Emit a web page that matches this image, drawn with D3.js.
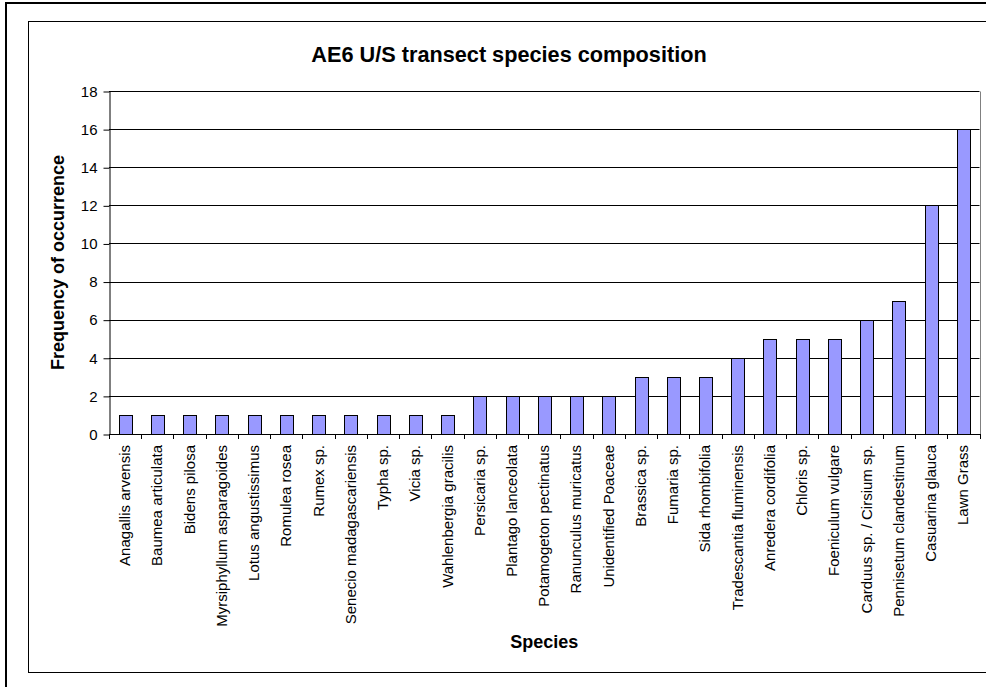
<!DOCTYPE html>
<html>
<head>
<meta charset="utf-8">
<script src="https://cdn.jsdelivr.net/npm/d3@7"></script>
<style>
  html, body { margin: 0; padding: 0; background: #fff; }
  svg { display: block; font-family: "Liberation Sans", Arial, sans-serif; }
</style>
</head>
<body>
<svg id="chart" width="986" height="687"></svg>
<script>
// Species recorded along the AE6 U/S transect and how often each occurred
const species = [
  "Anagallis arvensis", "Baumea articulata", "Bidens pilosa", "Myrsiphyllum asparagoides",
  "Lotus angustissimus", "Romulea rosea", "Rumex sp.", "Senecio madagascariensis",
  "Typha sp.", "Vicia sp.", "Wahlenbergia gracilis", "Persicaria sp.",
  "Plantago lanceolata", "Potamogeton pectinatus", "Ranunculus muricatus", "Unidentified Poaceae",
  "Brassica sp.", "Fumaria sp.", "Sida rhombifolia", "Tradescantia fluminensis",
  "Anredera cordifolia", "Chloris sp.", "Foeniculum vulgare", "Carduus sp. / Cirsium sp.",
  "Pennisetum clandestinum", "Casuarina glauca", "Lawn Grass"
];
const frequency = [1, 1, 1, 1, 1, 1, 1, 1, 1, 1, 1, 2, 2, 2, 2, 2, 3, 3, 3, 4, 5, 5, 5, 6, 7, 12, 16];
const yTicks = [0, 2, 4, 6, 8, 10, 12, 14, 16, 18];

const titleText = "AE6 U/S transect species composition";
const xTitle = "Species";
const yTitle = "Frequency of occurrence";

const svg = d3.select("#chart");

// Outer frame and chart-area frame
svg.append("rect").attr("x", 6).attr("y", 3).attr("width", 990).attr("height", 700)
  .attr("fill", "none").attr("stroke", "#000").attr("stroke-width", 2);
svg.append("rect").attr("x", 28.5).attr("y", 21.5).attr("width", 970).attr("height", 651)
  .attr("fill", "#fff").attr("stroke", "#000").attr("stroke-width", 1);

const plot = { left: 109, right: 979.5, top: 91, bottom: 434 };

const xBand = d3.scaleBand().domain(species).range([plot.left, plot.right]);
const y = d3.scaleLinear().domain([0, 18]).range([plot.bottom, plot.top]);

// Horizontal gridlines
svg.append("g").selectAll("line").data(yTicks.filter(d => d > 0)).join("line")
  .attr("x1", plot.left).attr("x2", plot.right)
  .attr("y1", d => Math.round(y(d)) + 0.5).attr("y2", d => Math.round(y(d)) + 0.5)
  .attr("stroke", "#000").attr("stroke-width", 1);

// Plot area right border
svg.append("line").attr("x1", Math.round(plot.right) + 0.5).attr("x2", Math.round(plot.right) + 0.5)
  .attr("y1", Math.round(plot.top) + 0.5).attr("y2", plot.bottom)
  .attr("stroke", "#808080");

// Bars
const barW = xBand.bandwidth() * 0.4;
svg.append("g").selectAll("rect").data(species).join("rect")
  .attr("x", (d) => Math.round(xBand(d) + xBand.bandwidth() / 2 - barW / 2) + 0.5)
  .attr("y", (d, i) => Math.round(y(frequency[i])) + 0.5)
  .attr("width", Math.round(barW))
  .attr("height", (d, i) => Math.round(y(0)) - Math.round(y(frequency[i])))
  .attr("fill", "#9999ff").attr("stroke", "#000").attr("stroke-width", 1);

// Y axis
const yAxis = d3.axisLeft(y).tickValues(yTicks).tickSize(6).tickPadding(6).tickSizeOuter(0);
const gy = svg.append("g").attr("transform", `translate(${plot.left + 0.5},0.5)`).call(yAxis);
gy.select(".domain").attr("stroke", "#000");
gy.selectAll(".tick line").attr("stroke", "#000");
gy.selectAll("text").attr("font-size", 15).attr("fill", "#000")
  .attr("font-family", "'Liberation Sans', Arial, sans-serif");

// X axis line and boundary ticks between categories
svg.append("line").attr("x1", plot.left).attr("x2", plot.right + 1)
  .attr("y1", plot.bottom + 0.5).attr("y2", plot.bottom + 0.5).attr("stroke", "#000");
const bounds = species.map(d => xBand(d)).concat([plot.right]);
svg.append("g").selectAll("line").data(bounds).join("line")
  .attr("x1", d => Math.round(d) + 0.5).attr("x2", d => Math.round(d) + 0.5)
  .attr("y1", plot.bottom).attr("y2", plot.bottom + 5)
  .attr("stroke", "#000");

// Category labels, rotated
svg.append("g").selectAll("text").data(species).join("text")
  .attr("transform", d => `translate(${xBand(d) + xBand.bandwidth() / 2 + 5},${plot.bottom + 11}) rotate(-90)`)
  .attr("text-anchor", "end")
  .attr("font-size", 15)
  .text(d => d);

// Titles
svg.append("text").attr("x", 509).attr("y", 62).attr("text-anchor", "middle")
  .attr("font-size", 21.7).attr("font-weight", "bold").text(titleText);
svg.append("text").attr("x", (plot.left + plot.right) / 2).attr("y", 648).attr("text-anchor", "middle")
  .attr("font-size", 18).attr("font-weight", "bold").text(xTitle);
svg.append("text")
  .attr("transform", `translate(64,${(plot.top + plot.bottom) / 2}) rotate(-90)`)
  .attr("text-anchor", "middle")
  .attr("font-size", 18).attr("font-weight", "bold").text(yTitle);
</script>
</body>
</html>
